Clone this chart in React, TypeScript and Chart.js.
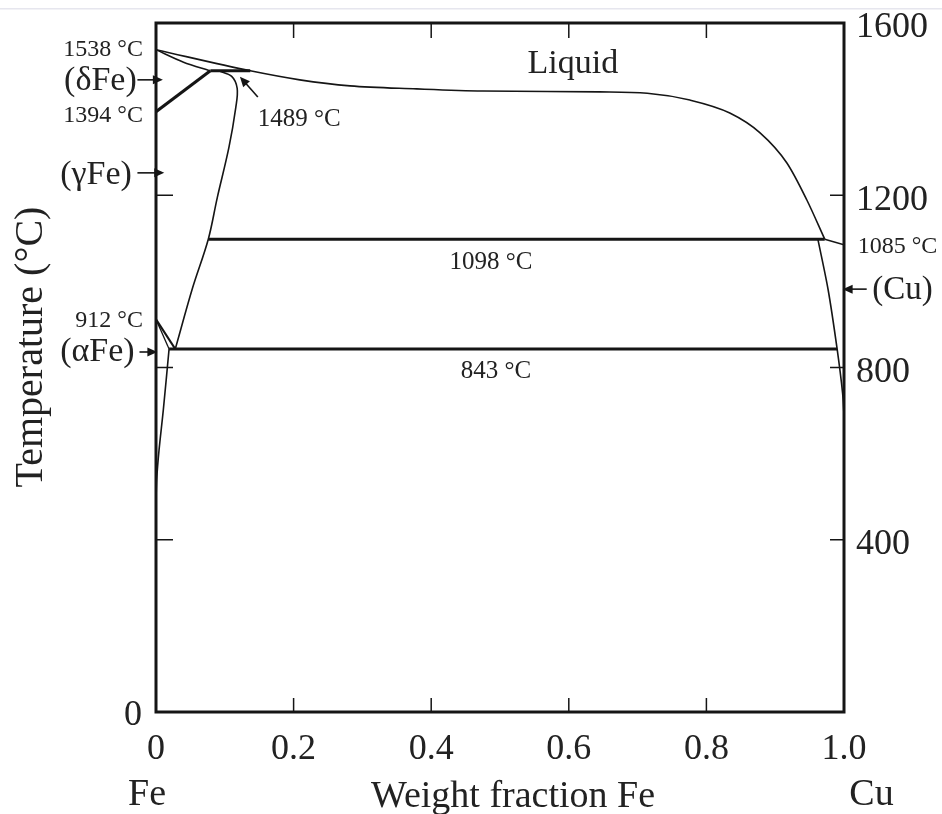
import React, { useEffect, useRef } from 'react';
import { Chart, registerables } from 'chart.js';

Chart.register(...registerables);

// ---- axis ticks ----
const xTicks = [0, 0.2, 0.4, 0.6, 0.8, 1.0];
const rightTTicks = [400, 800, 1200, 1600];
const leftTTicks = [0];
const innerXTicks = [0.2, 0.4, 0.6, 0.8];
const innerTTicks = [400, 800, 1200];

// ---- phase boundaries (weight fraction, °C) ----
const liquidusX = [0, 0.137, 0.209, 0.282, 0.379, 0.475, 0.645, 0.714, 0.776, 0.834, 0.878, 0.917, 0.946, 0.972];
const liquidusT = [1538, 1489, 1468, 1454, 1447, 1442, 1440, 1437, 1421, 1391, 1345, 1275, 1189, 1098];

const cuLiquidusX = [0.972, 1.0];
const cuLiquidusT = [1098, 1085];

const deltaSolidusX = [0, 0.04, 0.079];
const deltaSolidusT = [1538, 1509, 1489];

const deltaGammaX = [0, 0.079];
const deltaGammaT = [1394, 1489];

const peritecticX = [0.079, 0.137];
const peritecticT = [1489, 1489];

const gammaSolvusX = [0.091, 0.110, 0.118, 0.116, 0.106, 0.089, 0.076, 0.053, 0.028];
const gammaSolvusT = [1489, 1476, 1448, 1404, 1311, 1194, 1098, 984, 843];

const monotecticX = [0.076, 0.972];
const monotecticT = [1098, 1098];

const eutectoidX = [0.019, 0.99];
const eutectoidT = [843, 843];

const cuSolvusX = [0.962, 0.977, 0.99, 0.998, 1.0];
const cuSolvusT = [1098, 980, 843, 740, 690];

const gammaAlphaX = [0, 0.028];
const gammaAlphaT = [912, 843];

const alphaGammaX = [0, 0.019];
const alphaGammaT = [912, 843];

const alphaSolvusX = [0.019, 0.0106, 0.0044, 0.001, 0];
const alphaSolvusT = [843, 701, 608, 540, 490];

// ---- annotations ----
const labelTexts = ['1538 °C', '(δFe)', '1394 °C', '(γFe)', '912 °C', '(αFe)', '1489 °C', 'Liquid', '1098 °C', '843 °C', '1085 °C', '(Cu)'];
const labelX = [-0.019, -0.028, -0.019, -0.035, -0.019, -0.031, 0.148, 0.606, 0.487, 0.494, 1.02, 1.041];
const labelT = [1537, 1466, 1384, 1247, 908, 836, 1377, 1505, 1043, 792, 1080, 980];
const labelAlign: CanvasTextAlign[] = ['right', 'right', 'right', 'right', 'right', 'right', 'left', 'center', 'center', 'center', 'left', 'left'];
const labelSize = [24, 34, 24, 34, 24, 34, 25, 34, 25, 25, 24, 33];

// arrows: from (x1,t1) to tip (x2,t2)
const arrowX1 = [-0.027, -0.027, -0.024, 1.033, 0.148];
const arrowT1 = [1468, 1252, 836, 982, 1428];
const arrowX2 = [0.01, 0.012, 0.002, 0.998, 0.122];
const arrowT2 = [1468, 1252, 836, 982, 1475];

const FONT = "'Liberation Serif', 'DejaVu Serif', serif";
const TEXT = '#222';
const LINE = '#151515';

function pts(xs: number[], ts: number[]) {
  return xs.map((x, i) => ({ x, y: ts[i] }));
}

function ds(xs: number[], ts: number[], width: number, tension = 0, mono = false) {
  return {
    data: pts(xs, ts),
    showLine: true,
    borderColor: LINE,
    borderWidth: width,
    pointRadius: 0,
    pointHoverRadius: 0,
    tension,
    cubicInterpolationMode: mono ? 'monotone' : 'default',
    fill: false,
  } as any;
}

const decorPlugin = {
  id: 'decor',
  afterDraw(chart: any) {
    const ctx: CanvasRenderingContext2D = chart.ctx;
    const { left, right, top, bottom } = chart.chartArea;
    const xs = chart.scales.x;
    const ys = chart.scales.y;
    ctx.save();

    // faint page line at top
    ctx.fillStyle = '#e6e6ee';
    ctx.fillRect(0, 8, chart.width, 1.5);

    // frame
    ctx.strokeStyle = LINE;
    ctx.lineWidth = 3;
    ctx.strokeRect(left, top, right - left, bottom - top);

    // inward ticks
    ctx.lineWidth = 1.5;
    ctx.beginPath();
    innerXTicks.forEach((v) => {
      const px = xs.getPixelForValue(v);
      ctx.moveTo(px, bottom);
      ctx.lineTo(px, bottom - 14);
      ctx.moveTo(px, top);
      ctx.lineTo(px, top + 15);
    });
    innerTTicks.forEach((v) => {
      const py = ys.getPixelForValue(v);
      ctx.moveTo(left, py);
      ctx.lineTo(left + 17, py);
      ctx.moveTo(right, py);
      ctx.lineTo(right - 14, py);
    });
    ctx.stroke();

    // arrows
    ctx.fillStyle = LINE;
    arrowX1.forEach((_, i) => {
      const x1 = xs.getPixelForValue(arrowX1[i]);
      const y1 = ys.getPixelForValue(arrowT1[i]);
      const x2 = xs.getPixelForValue(arrowX2[i]);
      const y2 = ys.getPixelForValue(arrowT2[i]);
      const ang = Math.atan2(y2 - y1, x2 - x1);
      const hl = 10, hw = 4.5;
      ctx.lineWidth = 1.6;
      ctx.beginPath();
      ctx.moveTo(x1, y1);
      ctx.lineTo(x2 - Math.cos(ang) * hl * 0.8, y2 - Math.sin(ang) * hl * 0.8);
      ctx.stroke();
      ctx.beginPath();
      ctx.moveTo(x2, y2);
      ctx.lineTo(x2 - Math.cos(ang) * hl - Math.sin(ang) * hw, y2 - Math.sin(ang) * hl + Math.cos(ang) * hw);
      ctx.lineTo(x2 - Math.cos(ang) * hl + Math.sin(ang) * hw, y2 - Math.sin(ang) * hl - Math.cos(ang) * hw);
      ctx.closePath();
      ctx.fill();
    });

    // labels
    ctx.fillStyle = TEXT;
    ctx.textBaseline = 'middle';
    labelTexts.forEach((t, i) => {
      ctx.font = `${labelSize[i]}px ${FONT}`;
      ctx.textAlign = labelAlign[i];
      ctx.fillText(t, xs.getPixelForValue(labelX[i]), ys.getPixelForValue(labelT[i]));
    });

    // axis titles
    ctx.font = `38px ${FONT}`;
    ctx.textAlign = 'center';
    ctx.fillText('Fe', xs.getPixelForValue(-0.013), 795);
    ctx.fillText('Weight fraction Fe', xs.getPixelForValue(0.519), 797);
    ctx.fillText('Cu', xs.getPixelForValue(1.04), 795);

    ctx.save();
    ctx.translate(31, 347);
    ctx.rotate(-Math.PI / 2);
    ctx.font = `40px ${FONT}`;
    ctx.textAlign = 'center';
    ctx.fillText('Temperature (°C)', 0, 0);
    ctx.restore();

    ctx.restore();
  },
};

export default function App() {
  const ref = useRef<HTMLCanvasElement | null>(null);

  useEffect(() => {
    if (!ref.current) return;
    const tickFont = { family: FONT, size: 36 };
    const fitY = (w: number) => (s: any) => {
      s.width = w;
      s.paddingTop = 0;
      s.paddingBottom = 0;
    };
    const chart = new Chart(ref.current, {
      type: 'scatter',
      data: {
        datasets: [
          ds(liquidusX, liquidusT, 1.6, 0, true),
          ds(cuLiquidusX, cuLiquidusT, 1.6),
          ds(deltaSolidusX, deltaSolidusT, 1.6, 0.3),
          ds(deltaGammaX, deltaGammaT, 3),
          ds(peritecticX, peritecticT, 3),
          ds(gammaSolvusX, gammaSolvusT, 1.6, 0.35),
          ds(monotecticX, monotecticT, 3),
          ds(eutectoidX, eutectoidT, 3),
          ds(cuSolvusX, cuSolvusT, 1.6, 0.3),
          ds(gammaAlphaX, gammaAlphaT, 2.2),
          ds(alphaGammaX, alphaGammaT, 1.3),
          ds(alphaSolvusX, alphaSolvusT, 1.6, 0.3),
        ],
      },
      options: {
        responsive: false,
        animation: false,
        devicePixelRatio: 1,
        events: [],
        layout: { padding: { top: 23, left: 0, right: 0, bottom: 0 } },
        plugins: { legend: { display: false }, tooltip: { enabled: false }, title: { display: false } },
        scales: {
          x: {
            type: 'linear',
            position: 'bottom',
            min: 0,
            max: 1,
            afterBuildTicks: (s: any) => { s.ticks = xTicks.map((v) => ({ value: v })); },
            afterFit: (s: any) => { s.height = 102; s.paddingLeft = 0; s.paddingRight = 0; },
            ticks: {
              font: tickFont,
              color: TEXT,
              padding: 16,
              maxRotation: 0,
              autoSkip: false,
              callback: (v: any) => (v === 0 ? '0' : v === 1 ? '1.0' : String(v)),
            },
            grid: { display: false, drawTicks: false },
            border: { display: false },
          },
          y: {
            type: 'linear',
            position: 'left',
            min: 0,
            max: 1600,
            afterBuildTicks: (s: any) => { s.ticks = leftTTicks.map((v) => ({ value: v })); },
            afterFit: fitY(156),
            ticks: { font: tickFont, color: TEXT, padding: 14, labelOffset: 4, callback: (v: any) => String(v) },
            grid: { display: false, drawTicks: false },
            border: { display: false },
          },
          y2: {
            type: 'linear',
            position: 'right',
            min: 0,
            max: 1600,
            afterBuildTicks: (s: any) => { s.ticks = rightTTicks.map((v) => ({ value: v })); },
            afterFit: fitY(98),
            ticks: { font: tickFont, color: TEXT, padding: 12, labelOffset: 5, callback: (v: any) => String(v) },
            grid: { display: false, drawTicks: false },
            border: { display: false },
          },
        },
      } as any,
      plugins: [decorPlugin],
    });
    return () => chart.destroy();
  }, []);

  return (
    <div style={{ position: 'fixed', left: 0, top: 0, width: 942, height: 814, background: '#fff' }}>
      <canvas ref={ref} width={942} height={814} style={{ display: 'block' }} />
    </div>
  );
}
